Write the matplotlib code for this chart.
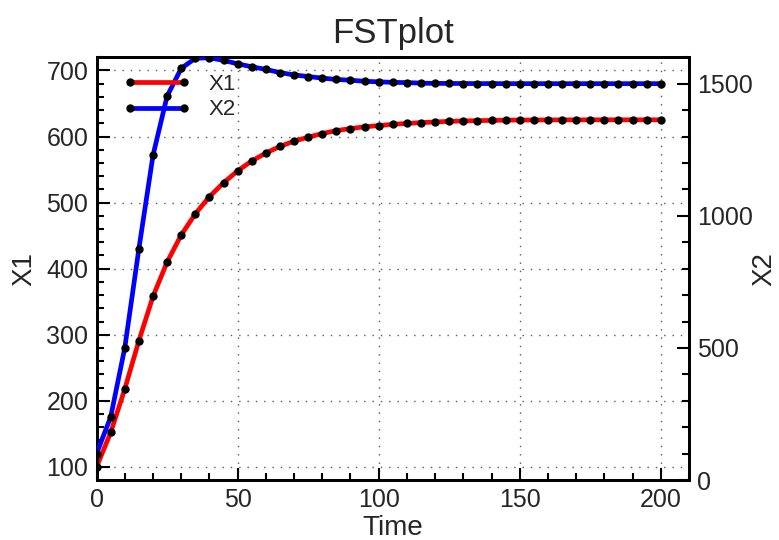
import matplotlib
matplotlib.use("Agg")
import matplotlib.pyplot as plt
from matplotlib.ticker import MultipleLocator

plt.rcParams['font.family'] = ['Liberation Sans', 'DejaVu Sans']

time = list(range(0, 201, 5))
x1 = [100, 152, 218, 291, 358, 410, 451, 483, 509, 530, 548, 563, 575, 585, 593,
      599, 604.5, 609, 612, 614.7, 616.5, 618.5, 619.8, 621, 622, 623, 623.6,
      624, 624.4, 624.7, 624.9, 625.0, 625.1, 625.2, 625.2, 625.3, 625.3, 625.3,
      625.3, 625.3, 625.3]
x2 = [100, 239, 501, 876, 1229, 1453, 1558, 1596, 1598, 1588, 1575, 1564, 1554,
      1542, 1533, 1527, 1521, 1516, 1513, 1509, 1507, 1505, 1504, 1502, 1501,
      1501, 1500.5, 1500.3, 1500.2, 1500.1, 1500, 1500, 1500, 1500, 1500, 1500,
      1500, 1500, 1500, 1500, 1500]

xticks = [0, 50, 100, 150, 200]
y1ticks = [100, 200, 300, 400, 500, 600, 700]
y2ticks = [0, 500, 1000, 1500]

txt = '#262626'
fig = plt.figure(figsize=(7.79, 5.40), dpi=100)
ax = fig.add_axes([0.124, 0.111, 0.7605, 0.783])
ax2 = ax.twinx()

l1, = ax.plot(time, x1, color='#ff0000', lw=3.4, marker='o', ms=5,
              mfc='black', mec='black', label='X1', zorder=3)
l2, = ax2.plot(time, x2, color='#0000ff', lw=3.4, marker='o', ms=5,
               mfc='black', mec='black', label='X2', zorder=3)

ax.set_xlim(0, 210)
ax.set_ylim(80, 720)
ax2.set_ylim(0, 1600)

ax.set_xticks(xticks)
ax.set_yticks(y1ticks)
ax2.set_yticks(y2ticks)
ax.xaxis.set_minor_locator(MultipleLocator(10))
ax.yaxis.set_minor_locator(MultipleLocator(20))
ax2.yaxis.set_minor_locator(MultipleLocator(100))

for a in (ax, ax2):
    a.tick_params(which='major', direction='in', length=9, width=1.5,
                  labelsize=18, colors='black', labelcolor=txt, pad=6)
    a.tick_params(which='minor', direction='in', length=5, width=1.5,
                  colors='black')
    for s in a.spines.values():
        s.set_linewidth(2)
ax.tick_params(which='both', top=False, right=False)
ax2.tick_params(which='both', left=False)

ax.grid(True, which='major', linestyle=(0, (1, 5)), color='0.35', lw=1)

ax.set_title('FSTplot', fontsize=25, color=txt, pad=10)
ax.set_xlabel('Time', fontsize=20, color=txt, labelpad=2)
ax.set_ylabel('X1', fontsize=20, color=txt)
ax2.set_ylabel('X2', fontsize=20, color=txt)
ax.yaxis.set_label_coords(-0.10, 0.5)
ax2.yaxis.set_label_coords(1.105, 0.5)

leg = ax2.legend(handles=[l1, l2], loc='upper left', bbox_to_anchor=(0.012, 1.008),
                 frameon=False, numpoints=2, fontsize=16, handlelength=3.0,
                 handletextpad=0.8, labelspacing=0.2)
for t in leg.get_texts():
    t.set_color(txt)

fig.savefig('out.png', dpi=100)
